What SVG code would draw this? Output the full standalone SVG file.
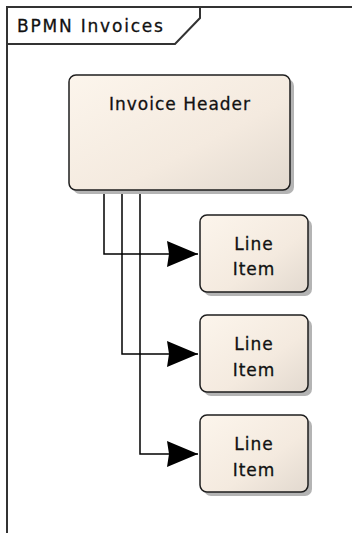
<svg xmlns="http://www.w3.org/2000/svg" width="352" height="542" viewBox="0 0 352 542">
  <style>
    .frame { fill: none; stroke: #333; stroke-width: 2; }
    .shadow { fill: #b4b4b4; }
    .box { fill: url(#boxFill); stroke: #1e1e1e; stroke-width: 1.5; }
    .label { font-family: "DejaVu Sans", Verdana, sans-serif; font-size: 17px; letter-spacing: 1px; fill: #111; stroke: #111; stroke-width: 0.3; text-anchor: middle; }
    .title { font-family: "DejaVu Sans", Verdana, sans-serif; font-size: 17px; letter-spacing: 1.8px; fill: #111; stroke: #111; stroke-width: 0.3; }
    .wire { fill: none; stroke: #000; stroke-width: 1.5; }
  </style>
  <defs>
    <linearGradient id="boxFill" x1="0" y1="0" x2="1" y2="1">
      <stop offset="0" stop-color="#fcf5ec"/>
      <stop offset="0.6" stop-color="#f4eadf"/>
      <stop offset="1" stop-color="#e2d9cf"/>
    </linearGradient>
    <marker id="arrow" markerUnits="userSpaceOnUse" markerWidth="32" markerHeight="28" refX="31" refY="13" orient="auto">
      <path d="M0,0 L31,13 L0,26 L2,13 Z" fill="#000"/>
    </marker>
  </defs>

  <rect width="352" height="542" fill="#fff"/>

  <!-- package frame with name tab -->
  <g id="frame">
    <path class="frame" d="M352,7 L7,7 L7,533"/>
    <path class="frame" d="M7,44 L175,44 L200,18 L200,7"/>
    <text class="title" x="17" y="32">BPMN Invoices</text>
  </g>

  <!-- connectors -->
  <g id="connectors">
    <path class="wire" d="M104,190 L104,254 L198,254" marker-end="url(#arrow)"/>
    <path class="wire" d="M122,190 L122,354 L198,354" marker-end="url(#arrow)"/>
    <path class="wire" d="M140,190 L140,454 L198,454" marker-end="url(#arrow)"/>
  </g>

  <g id="invoice-header">
    <rect class="shadow" x="73" y="79" width="221" height="115" rx="7"/>
    <rect class="box" x="69" y="75" width="221" height="115" rx="7"/>
    <text class="label" x="180" y="110">Invoice Header</text>
  </g>

  <g id="line-item-1">
    <rect class="shadow" x="204" y="219" width="108" height="77" rx="7"/>
    <rect class="box" x="200" y="215" width="108" height="77" rx="7"/>
    <text class="label" x="254" y="250">Line</text>
    <text class="label" x="254" y="275">Item</text>
  </g>

  <g id="line-item-2">
    <rect class="shadow" x="204" y="319" width="108" height="77" rx="7"/>
    <rect class="box" x="200" y="315" width="108" height="77" rx="7"/>
    <text class="label" x="254" y="350">Line</text>
    <text class="label" x="254" y="376">Item</text>
  </g>

  <g id="line-item-3">
    <rect class="shadow" x="204" y="419" width="108" height="77" rx="7"/>
    <rect class="box" x="200" y="415" width="108" height="77" rx="7"/>
    <text class="label" x="254" y="450">Line</text>
    <text class="label" x="254" y="476">Item</text>
  </g>
</svg>
